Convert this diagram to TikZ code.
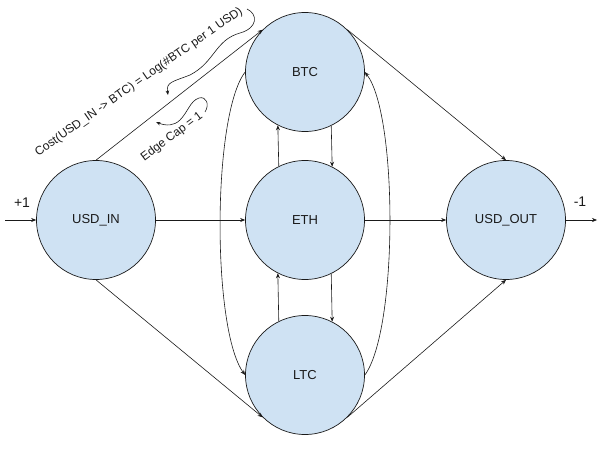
\documentclass[tikz,border=0pt]{standalone}
\usepackage{fontspec}
\setmainfont{Liberation Sans}
\usetikzlibrary{arrows.meta}
\definecolor{nodefill}{HTML}{CFE2F3}
\definecolor{ink}{HTML}{1A1A1A}
\begin{document}
\begin{tikzpicture}[x=1pt,y=-1pt,
  coin/.style={circle,draw=ink,line width=0.7pt,fill=nodefill,minimum size=119pt,inner sep=0pt,font=\fontsize{13}{15}\selectfont,text=ink},
  conn/.style={draw=ink,line width=0.6pt,-{Stealth[length=5pt,width=4pt]}},
  note/.style={font=\fontsize{12}{14}\selectfont,text=ink,inner sep=0pt},
  flow/.style={font=\fontsize{14}{16}\selectfont,text=ink,inner sep=0pt},
  curly/.style={draw=ink,line width=0.6pt,-{Stealth[length=4.5pt,width=3.5pt]}}]
\useasboundingbox (0,0) rectangle (609,452);
\node[coin] (usdin) at (96,220) {USD\_IN};
\node[coin] (btc) at (305,72) {BTC};
\node[coin] (eth) at (305,220) {ETH};
\node[coin] (ltc) at (305,375) {LTC};
\node[coin] (usdout) at (506,220) {USD\_OUT};
\coordinate (src) at (5,220);
\coordinate (snk) at (597,220);
\node[flow] (plus) at (22,203) {+1};
\node[flow] (minus) at (580,202) {-1};
% connectors
\draw[conn] (src) -- (usdin.west);
\draw[conn] (usdout.east) -- (snk);
\draw[conn] (usdin.north) -- (btc.135);
\draw[conn] (usdin.east) -- (eth.west);
\draw[conn] (usdin.south) -- (ltc.225);
\draw[conn] (btc.45) -- (usdout.north);
\draw[conn] (eth.east) -- (usdout.west);
\draw[conn] (ltc.-45) -- (usdout.south);
\draw[conn] (eth.116.7) -- (btc.243.3);
\draw[conn] (btc.296.7) -- (eth.63.3);
\draw[conn] (ltc.116.7) -- (eth.243.3);
\draw[conn] (eth.296.7) -- (ltc.63.3);
\draw[conn] (btc.west) .. controls (212,115) and (212,330) .. (ltc.west);
\draw[conn] (ltc.east) .. controls (398,330) and (398,115) .. (btc.east);
% annotations
\node[note,rotate=35] (cost) at (139,82) {Cost(USD\_IN -> BTC) = Log(\#BTC per 1 USD)};
\node[note,rotate=37] (cap) at (172,137) {Edge Cap = 1};
\coordinate (c1s) at (247,9);
\coordinate (c1e) at (168,95);
\draw[curly] (c1s) .. controls (258,14) and (258,28) .. (240,33)
  .. controls (215,40) and (215,62) .. (190,75)
  .. controls (172,82) and (166,82) .. (c1e);
\coordinate (c2s) at (205,112);
\coordinate (c2e) at (156,122);
\draw[curly] (c2s) .. controls (210,104) and (206,96) .. (199,98)
  .. controls (190,101) and (188,112) .. (180,120)
  .. controls (174,126) and (166,126) .. (c2e);
\end{tikzpicture}
\end{document}
